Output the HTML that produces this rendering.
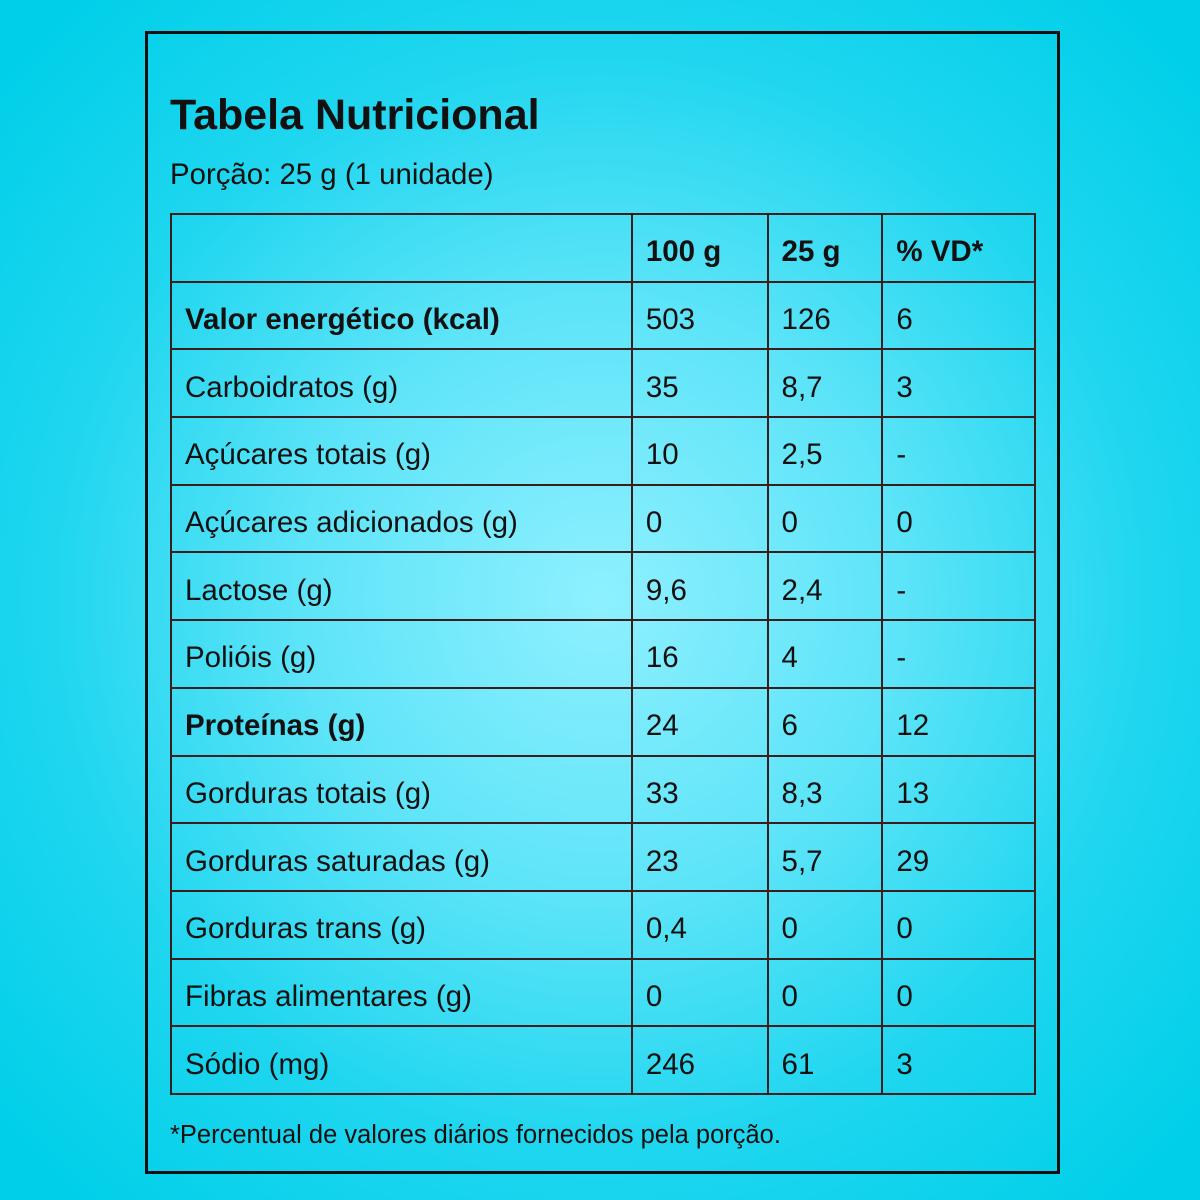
<!DOCTYPE html>
<html><head><meta charset="utf-8"><style>
html,body{margin:0;padding:0;}
body{width:1200px;height:1200px;background:radial-gradient(circle at 600px 600px,#8ef0ff 0px,#5de4f8 300px,#1fd6ef 550px,#00cfe9 800px);font-family:"Liberation Sans","DejaVu Sans",sans-serif;color:#111;position:relative;overflow:hidden;}
.box{position:absolute;left:145px;top:31px;width:909px;height:1137px;border:3px solid #111;}
h1{position:absolute;left:170px;top:91px;margin:0;font-size:43px;font-weight:bold;}
.por{position:absolute;left:170px;top:158px;font-size:29.4px;}
table{position:absolute;left:170px;top:213px;width:866px;border-collapse:collapse;}
tr{height:67.7px;}
td{border:2px solid #3a1e1e;padding:9px 0 0 13px;font-size:29.5px;}
td.b{font-weight:bold;}
.foot{position:absolute;left:170px;top:1121px;font-size:25.5px;}
</style></head><body>
<div class="box"></div>
<h1>Tabela Nutricional</h1>
<div class="por">Porção: 25 g (1 unidade)</div>
<table>
<colgroup><col style="width:462px"><col style="width:136px"><col style="width:115px"><col style="width:153px"></colgroup>
<tr><td></td><td class="b">100 g</td><td class="b">25 g</td><td class="b">% VD*</td></tr>
<tr><td class="b">Valor energético (kcal)</td><td>503</td><td>126</td><td>6</td></tr>
<tr><td>Carboidratos (g)</td><td>35</td><td>8,7</td><td>3</td></tr>
<tr><td>Açúcares totais (g)</td><td>10</td><td>2,5</td><td>-</td></tr>
<tr><td>Açúcares adicionados (g)</td><td>0</td><td>0</td><td>0</td></tr>
<tr><td>Lactose (g)</td><td>9,6</td><td>2,4</td><td>-</td></tr>
<tr><td>Polióis (g)</td><td>16</td><td>4</td><td>-</td></tr>
<tr><td class="b">Proteínas (g)</td><td>24</td><td>6</td><td>12</td></tr>
<tr><td>Gorduras totais (g)</td><td>33</td><td>8,3</td><td>13</td></tr>
<tr><td>Gorduras saturadas (g)</td><td>23</td><td>5,7</td><td>29</td></tr>
<tr><td>Gorduras trans (g)</td><td>0,4</td><td>0</td><td>0</td></tr>
<tr><td>Fibras alimentares (g)</td><td>0</td><td>0</td><td>0</td></tr>
<tr><td>Sódio (mg)</td><td>246</td><td>61</td><td>3</td></tr>
</table>
<div class="foot">*Percentual de valores diários fornecidos pela porção.</div>
</body></html>
